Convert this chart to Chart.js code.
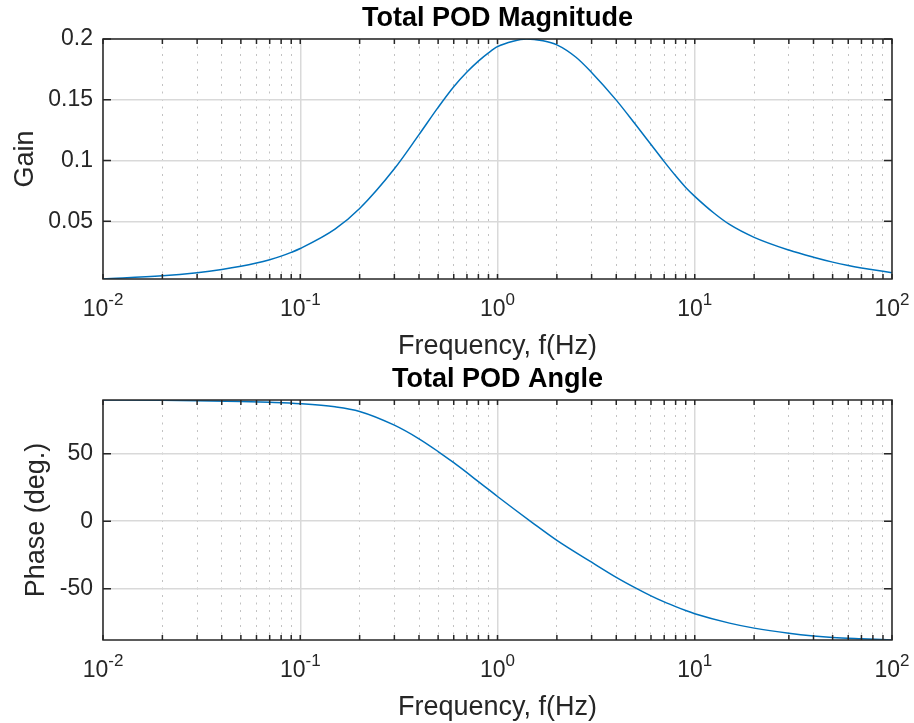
<!DOCTYPE html>
<html>
<head>
<meta charset="utf-8">
<title>Total POD</title>
<script src="https://cdn.jsdelivr.net/npm/chart.js@4.4.1/dist/chart.umd.min.js"></script>
<style>
  body { margin: 0; background: #fff; }
  .panel { position: absolute; left: 0; width: 914px; height: 361px; }
  #magPanel { top: 0; }
  #phasePanel { top: 361px; }
</style>
</head>
<body>
<div class="panel" id="magPanel"><canvas id="magChart" width="914" height="361"></canvas></div>
<div class="panel" id="phasePanel"><canvas id="phaseChart" width="914" height="361"></canvas></div>
<script>
// --- values ---
const magFreq = [0.01, 0.02, 0.03, 0.04, 0.05, 0.06, 0.07, 0.08, 0.09, 0.1, 0.15, 0.2, 0.3, 0.4, 0.5, 0.6, 0.7, 0.8, 0.9,
                 1, 1.2, 1.4, 1.7, 2, 2.5, 3, 4, 5, 6, 7, 8, 9, 10, 12.5, 15, 20, 30, 40, 50, 60, 70, 80, 90, 100];
const magGain = [0.0025, 0.0051, 0.0077, 0.0103, 0.0129, 0.0156, 0.0184, 0.0213, 0.0244, 0.0276, 0.0435, 0.0605, 0.0932,
                 0.1213, 0.1437, 0.1607, 0.1728, 0.1818, 0.1886, 0.1937, 0.1982, 0.2000, 0.1985, 0.1952, 0.1850, 0.1725,
                 0.1497, 0.1298, 0.1132, 0.0991, 0.0874, 0.0778, 0.0705, 0.0568, 0.0474, 0.0368, 0.0263, 0.0204, 0.0164,
                 0.0136, 0.0116, 0.0101, 0.0088, 0.0077];

const phaseFreq = [0.01, 0.02, 0.03, 0.05, 0.07, 0.1, 0.15, 0.2, 0.3, 0.4, 0.5, 0.6, 0.7, 0.8, 0.9, 1, 1.5, 2, 3, 4, 5,
                   6, 7, 8, 9, 10, 15, 20, 30, 40, 50, 70, 100];
const phaseDeg = [89.75, 89.5, 89.2, 88.6, 88.0, 87.0, 84.7, 81.3, 71.1, 61.0, 51.6, 43.3, 35.9, 29.3, 23.5, 18.3, -1.0,
                  -14.2, -30.4, -41.6, -49.4, -55.3, -59.8, -63.3, -66.2, -68.5, -75.5, -79.2, -83.0, -85.0, -86.1,
                  -87.1, -88.0];

// tick positions and labels
const freqGridTicks = [0.01, 0.02, 0.03, 0.04, 0.05, 0.06, 0.07, 0.08, 0.09,
                       0.1, 0.2, 0.3, 0.4, 0.5, 0.6, 0.7, 0.8, 0.9,
                       1, 2, 3, 4, 5, 6, 7, 8, 9,
                       10, 20, 30, 40, 50, 60, 70, 80, 90, 100];
const freqMajorTicks = [0.01, 0.1, 1, 10, 100];
const freqExponents = ['-2', '-1', '0', '1', '2'];
const gainTicks = [0.05, 0.1, 0.15, 0.2];
const gainTickLabels = ['0.05', '0.1', '0.15', '0.2'];
const phaseTicks = [-50, 0, 50];
const phaseTickLabels = ['-50', '0', '50'];

const FONT = '"Liberation Sans", Arial, Helvetica, sans-serif';
const AXIS_COLOR = '#262626';
const LINE_COLOR = '#0072bd';

Chart.defaults.font.family = FONT;
Chart.defaults.color = AXIS_COLOR;

function isDecade(v) {
    return freqMajorTicks.indexOf(v) !== -1;
}

// MATLAB style box: frame, inward ticks on every side and 10^n labels
const matlabBox = {
    id: 'matlabBox',
    afterDraw(chart, args, opts) {
        const { ctx, chartArea: a, scales: { x, y } } = chart;
        ctx.save();
        ctx.strokeStyle = AXIS_COLOR;
        ctx.lineWidth = 1.5;
        ctx.beginPath();
        freqGridTicks.forEach(v => {
            const px = x.getPixelForValue(v);
            ctx.moveTo(px, a.bottom); ctx.lineTo(px, a.bottom - 5);
            ctx.moveTo(px, a.top); ctx.lineTo(px, a.top + 5);
        });
        opts.yTicks.forEach(v => {
            const py = y.getPixelForValue(v);
            ctx.moveTo(a.left, py); ctx.lineTo(a.left + 8, py);
            ctx.moveTo(a.right, py); ctx.lineTo(a.right - 8, py);
        });
        ctx.stroke();
        ctx.strokeRect(a.left, a.top, a.right - a.left, a.bottom - a.top);

        ctx.fillStyle = AXIS_COLOR;
        ctx.textAlign = 'left';
        ctx.textBaseline = 'alphabetic';
        freqMajorTicks.forEach((v, i) => {
            const px = x.getPixelForValue(v);
            ctx.font = '23px ' + FONT;
            const wBase = ctx.measureText('10').width;
            ctx.font = '17px ' + FONT;
            const wExp = ctx.measureText(freqExponents[i]).width;
            const left = px - (wBase + wExp) / 2;
            ctx.font = '23px ' + FONT;
            ctx.fillText('10', left, a.bottom + 37);
            ctx.font = '17px ' + FONT;
            ctx.fillText(freqExponents[i], left + wBase, a.bottom + 26);
        });
        ctx.restore();
    }
};

function bodeChart(canvasId, freq, values, cfg) {
    const points = freq.map((f, i) => ({ x: f, y: values[i] }));
    return new Chart(document.getElementById(canvasId), {
        type: 'line',
        data: {
            datasets: [{
                data: points,
                borderColor: LINE_COLOR,
                borderWidth: 1.5,
                pointRadius: 0,
                fill: false,
                cubicInterpolationMode: 'monotone'
            }]
        },
        options: {
            responsive: false,
            animation: false,
            devicePixelRatio: 1,
            layout: { padding: { left: 0, right: 22, top: 0, bottom: 0 } },
            plugins: {
                legend: { display: false },
                tooltip: { enabled: false },
                title: {
                    display: true,
                    fullSize: false,
                    text: cfg.title,
                    color: '#000',
                    font: { size: 27, weight: 'bold' },
                    padding: { top: 2.7, bottom: 3.9 }
                },
                matlabBox: { yTicks: cfg.yTicks }
            },
            scales: {
                x: {
                    type: 'logarithmic',
                    min: 0.01,
                    max: 100,
                    afterBuildTicks: s => { s.ticks = freqGridTicks.map(v => ({ value: v, major: isDecade(v) })); },
                    afterFit: s => { s.height = 82; },
                    ticks: { display: false, autoSkip: false },
                    grid: {
                        drawTicks: false,
                        color: c => (c.tick && c.tick.major) ? '#d9d9d9' : '#c2c2c2',
                        lineWidth: c => (c.tick && c.tick.major) ? 1.5 : 1
                    },
                    border: {
                        display: false,
                        dash: c => (c.tick && !c.tick.major) ? [2, 5.5] : []
                    },
                    title: {
                        display: true,
                        text: 'Frequency, f(Hz)',
                        font: { size: 27 },
                        padding: { top: 0, bottom: -2.2 }
                    }
                },
                y: {
                    min: cfg.yMin,
                    max: cfg.yMax,
                    afterBuildTicks: s => { s.ticks = cfg.yTicks.map(v => ({ value: v })); },
                    afterFit: s => { s.width = 103; },
                    ticks: {
                        padding: 10,
                        font: { size: 23 },
                        callback: (v, i) => cfg.yLabels[i]
                    },
                    grid: { drawTicks: false, color: '#d9d9d9', lineWidth: 1.5 },
                    border: { display: false },
                    title: {
                        display: true,
                        text: cfg.yTitle,
                        font: { size: 27 },
                        padding: { top: cfg.yTitlePad, bottom: 0 }
                    }
                }
            }
        },
        plugins: [matlabBox]
    });
}

bodeChart('magChart', magFreq, magGain, {
    title: 'Total POD Magnitude',
    yTitle: 'Gain',
    yTitlePad: 9.3,
    yMin: 0.0025,
    yMax: 0.2,
    yTicks: gainTicks,
    yLabels: gainTickLabels
});

bodeChart('phaseChart', phaseFreq, phaseDeg, {
    title: 'Total POD Angle',
    yTitle: 'Phase (deg.)',
    yTitlePad: 20.5,
    yMin: -88,
    yMax: 89.75,
    yTicks: phaseTicks,
    yLabels: phaseTickLabels
});
</script>
</body>
</html>
